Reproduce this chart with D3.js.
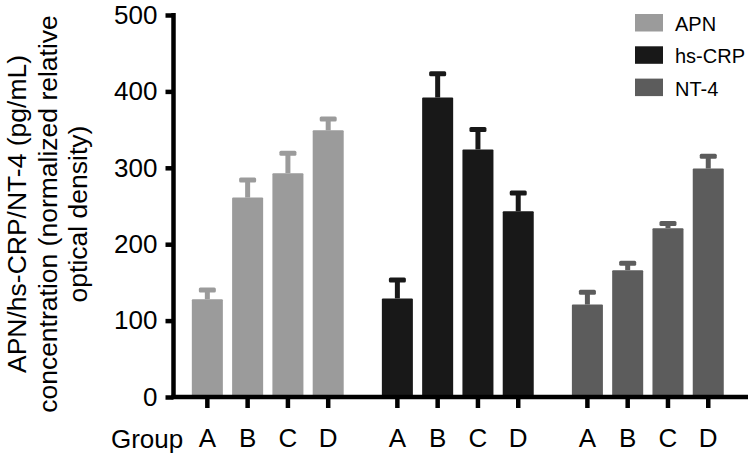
<!doctype html>
<html lang="en">
<head>
<meta charset="UTF-8" />
<title>APN / hs-CRP / NT-4</title>
<script src="https://d3js.org/d3.v7.min.js"></script>
<style>
  html,body{margin:0;padding:0;background:#fff;}
  svg{display:block;font-family:"Liberation Sans",Arial,Helvetica,sans-serif;}
</style>
</head>
<body>
<div id="chart"></div>
<script>
  /* ---------- data ---------- */
  const groups   = ['A','B','C','D'];
  const series   = ['APN','hs-CRP','NT-4'];
  const colors   = ['#9b9b9b','#181818','#5c5c5c'];
  const apn      = [128, 261, 293, 349];
  const apnErr   = [12, 23, 26, 15];
  const crp      = [129, 392, 324, 243];
  const crpErr   = [24, 31, 26, 24];
  const nt4      = [121, 166, 221, 299];
  const nt4Err   = [16, 9, 6, 16];
  const yTicks   = [0, 100, 200, 300, 400, 500];

  const values = [apn, crp, nt4], errors = [apnErr, crpErr, nt4Err];

  /* ---------- geometry ---------- */
  const W = 755, H = 459;
  const AXW = 4.5;                        // axis stroke
  const FS = 26;                          // main font size
  const svg = d3.select('#chart').append('svg').attr('width', W).attr('height', H);

  const y = d3.scaleLinear().domain([0, 500]).range([397, 15]);
  const xSeries = d3.scaleBand().domain(series).range([187.2, 728.4])
                    .paddingInner(0.152).paddingOuter(0);
  const xGroup = d3.scaleBand().domain(groups).range([0, xSeries.bandwidth()])
                   .paddingInner(0.23).paddingOuter(0.115);

  /* ---------- bars + error bars ---------- */
  series.forEach((s, si) => {
    const g = svg.append('g').attr('transform', `translate(${xSeries(s)},0)`);
    const rows = groups.map((k, i) => ({k, v: values[si][i], e: errors[si][i]}));
    const bw = xGroup.bandwidth();

    g.selectAll('line.err').data(rows).join('line')
      .attr('class', 'err')
      .attr('x1', d => xGroup(d.k) + bw/2).attr('x2', d => xGroup(d.k) + bw/2)
      .attr('y1', d => y(d.v)).attr('y2', d => y(d.v + d.e))
      .attr('stroke', colors[si]).attr('stroke-width', 5);

    g.selectAll('rect.cap').data(rows).join('rect')
      .attr('class', 'cap')
      .attr('x', d => xGroup(d.k) + bw/2 - 8.5).attr('width', 17)
      .attr('y', d => y(d.v + d.e) - 2.5).attr('height', 5)
      .attr('rx', 1.5).attr('fill', colors[si]);

    g.selectAll('rect.bar').data(rows).join('rect')
      .attr('class', 'bar')
      .attr('x', d => xGroup(d.k)).attr('width', bw)
      .attr('y', d => y(d.v)).attr('height', d => y(0) - y(d.v))
      .attr('rx', 1).attr('fill', colors[si]);

    /* group tick marks + letters */
    const ax = g.append('g').attr('transform', `translate(0,${y(0)})`)
      .call(d3.axisBottom(xGroup).tickSize(11).tickPadding(21));
    ax.select('.domain').remove();
    ax.selectAll('line').attr('stroke', '#000').attr('stroke-width', AXW);
    ax.selectAll('text').attr('fill', '#000').style('font-size', FS + 'px');
  });

  /* "Group" label in front of the first letter row */
  svg.append('text')
     .attr('x', xSeries(series[0]) - 4).attr('y', 448)
     .attr('text-anchor', 'end').style('font-size', FS + 'px')
     .text('Group');

  /* ---------- axes ---------- */
  const yAx = svg.append('g').attr('transform', 'translate(173.5,0)')
    .call(d3.axisLeft(y).tickValues(yTicks).tickSize(8).tickSizeOuter(0).tickPadding(8));
  yAx.select('.domain').attr('stroke', '#000').attr('stroke-width', AXW)
     .attr('d', `M0,${y(500) - 2}V${y(0) + 2}`);
  yAx.selectAll('.tick line').attr('stroke', '#000').attr('stroke-width', AXW);
  yAx.selectAll('text').attr('fill', '#000').style('font-size', FS + 'px');

  svg.append('line')
     .attr('x1', 171.25).attr('x2', 748)
     .attr('y1', y(0)).attr('y2', y(0))
     .attr('stroke', '#000').attr('stroke-width', AXW);

  /* y title, three lines */
  const yTitle = svg.append('text')
     .attr('transform', `translate(26,214) rotate(-90)`)
     .attr('text-anchor', 'middle').style('font-size', '26.5px');
  ['APN/hs-CRP/NT-4 (pg/mL)', 'concentration (normalized relative', 'optical density)']
    .forEach((t, i) => yTitle.append('tspan').attr('x', 0).attr('y', i * 30.5).text(t));

  /* ---------- legend ---------- */
  const leg = svg.append('g').attr('transform', 'translate(635,14)');
  series.forEach((s, i) => {
    const row = leg.append('g').attr('transform', `translate(0,${i * 32.3})`);
    row.append('rect').attr('width', 28).attr('height', 17.5).attr('fill', colors[i]);
    row.append('text').attr('x', 40).attr('y', 17).style('font-size', '20px').text(s);
  });
</script>
</body>
</html>
